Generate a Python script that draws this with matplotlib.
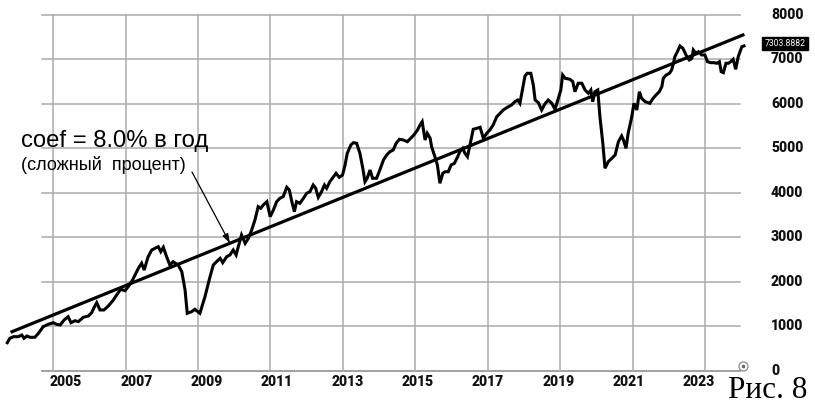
import matplotlib
matplotlib.use("Agg")
import matplotlib.pyplot as plt
import matplotlib.transforms as mtransforms

# index level (year fraction, value)
years = [
    2003.73, 2003.80, 2003.90, 2004.03, 2004.13, 2004.19, 2004.27, 2004.36, 2004.49, 2004.59,
    2004.72, 2004.86, 2005.00, 2005.09, 2005.19, 2005.30, 2005.41, 2005.49, 2005.60, 2005.69,
    2005.83, 2005.97, 2006.06, 2006.13, 2006.20, 2006.29, 2006.40, 2006.52, 2006.66, 2006.75,
    2006.86, 2006.98, 2007.07, 2007.19, 2007.35, 2007.44, 2007.51, 2007.62, 2007.72, 2007.81,
    2007.90, 2007.97, 2008.04, 2008.13, 2008.22, 2008.31, 2008.45, 2008.55, 2008.64, 2008.70,
    2008.82, 2008.91, 2009.05, 2009.19, 2009.33, 2009.42, 2009.51, 2009.61, 2009.68, 2009.79,
    2009.88, 2009.97, 2010.05, 2010.11, 2010.20, 2010.30, 2010.39, 2010.48, 2010.57, 2010.66,
    2010.73, 2010.80, 2010.90, 2010.99, 2011.08, 2011.17, 2011.26, 2011.35, 2011.45, 2011.52,
    2011.59, 2011.66, 2011.72, 2011.81, 2011.91, 2012.00, 2012.09, 2012.18, 2012.25, 2012.32,
    2012.41, 2012.49, 2012.55, 2012.64, 2012.73, 2012.81, 2012.90, 2012.99, 2013.06, 2013.12,
    2013.22, 2013.29, 2013.38, 2013.47, 2013.55, 2013.61, 2013.67, 2013.75, 2013.82, 2013.93,
    2014.02, 2014.12, 2014.21, 2014.30, 2014.39, 2014.47, 2014.56, 2014.67, 2014.78, 2014.87,
    2014.96, 2015.06, 2015.13, 2015.19, 2015.27, 2015.33, 2015.41, 2015.45, 2015.54, 2015.61,
    2015.68, 2015.76, 2015.82, 2015.91, 2015.99, 2016.08, 2016.17, 2016.23, 2016.31, 2016.37,
    2016.44, 2016.51, 2016.60, 2016.70, 2016.79, 2016.88, 2016.97, 2017.06, 2017.15, 2017.25,
    2017.34, 2017.43, 2017.57, 2017.66, 2017.75, 2017.83, 2017.89, 2017.97, 2018.03, 2018.09,
    2018.19, 2018.26, 2018.31, 2018.40, 2018.49, 2018.58, 2018.67, 2018.77, 2018.86, 2018.95,
    2019.02, 2019.07, 2019.14, 2019.27, 2019.35, 2019.41, 2019.50, 2019.60, 2019.69, 2019.78,
    2019.85, 2019.90, 2019.96, 2020.04, 2020.10, 2020.18, 2020.24, 2020.33, 2020.43, 2020.52,
    2020.61, 2020.70, 2020.75, 2020.82, 2020.88, 2020.98, 2021.04, 2021.12, 2021.19, 2021.25,
    2021.35, 2021.48, 2021.57, 2021.65, 2021.74, 2021.81, 2021.85, 2021.93, 2022.02, 2022.08,
    2022.13, 2022.17, 2022.24, 2022.31, 2022.39, 2022.45, 2022.50, 2022.57, 2022.64, 2022.68,
    2022.75, 2022.82, 2022.91, 2023.00, 2023.07, 2023.16, 2023.25, 2023.33, 2023.40, 2023.45,
    2023.51, 2023.58, 2023.65, 2023.71, 2023.78, 2023.85, 2023.92, 2024.02, 2024.08,
]
values = [
    636, 735, 771, 771, 809, 735, 786, 757, 757, 847,
    995, 1049, 1085, 1049, 1034, 1146, 1220, 1085, 1130, 1108,
    1207, 1236, 1310, 1431, 1535, 1371, 1371, 1461, 1595, 1708,
    1836, 1804, 1894, 2045, 2308, 2420, 2269, 2568, 2719, 2757,
    2793, 2681, 2780, 2568, 2382, 2456, 2382, 2231, 1820, 1297,
    1332, 1386, 1297, 1670, 2119, 2382, 2456, 2532, 2434, 2568,
    2607, 2719, 2607, 2793, 3056, 2869, 2982, 3168, 3393, 3692,
    3656, 3730, 3804, 3467, 3618, 3804, 3881, 3917, 4128, 4067,
    3804, 3580, 3804, 3768, 3881, 3993, 4029, 4179, 4105, 3903,
    4029, 4179, 4105, 4254, 4352, 4442, 4352, 4404, 4629, 4892,
    5078, 5130, 5116, 4892, 4555, 4254, 4330, 4516, 4330, 4330,
    4516, 4741, 4854, 4928, 4966, 5116, 5206, 5191, 5152, 5229,
    5303, 5415, 5528, 5602, 5191, 5341, 5229, 5040, 4815, 4629,
    4218, 4442, 4478, 4478, 4629, 4667, 4815, 4928, 5004, 4892,
    4815, 5078, 5431, 5453, 5476, 5229, 5341, 5415, 5528, 5714,
    5791, 5865, 5939, 5977, 6051, 6089, 6015, 6359, 6629, 6689,
    6689, 6426, 6089, 6029, 5865, 6000, 6089, 6015, 5880, 6128,
    6314, 6651, 6577, 6555, 6501, 6276, 6465, 6465, 6314, 6240,
    6314, 6051, 6276, 6314, 5714, 5116, 4555, 4703, 4779, 4854,
    5152, 5280, 5191, 5004, 5341, 5714, 6015, 5865, 6276, 6128,
    6051, 6015, 6128, 6202, 6276, 6388, 6577, 6651, 6689, 6763,
    6914, 7062, 7175, 7303, 7251, 7152, 7062, 6988, 7026, 7213,
    7139, 7175, 7101, 7101, 6950, 6928, 6928, 6914, 6950, 6725,
    6703, 6914, 6914, 6950, 7004, 6779, 7062, 7287, 7304,
]

# fitted trend line, ends
trend_years = [2003.86, 2024.05]
trend_values = [883, 7550]

x_ticks = [2005, 2007, 2009, 2011, 2013, 2015, 2017, 2019, 2021, 2023]
y_ticks = [0, 1000, 2000, 3000, 4000, 5000, 6000, 7000, 8000]
last_label = "7303.8882"

grid_color = "#ababab"

fig = plt.figure(figsize=(8.15, 4.05), dpi=100)
ax = fig.add_axes([0, 0, 1, 1])
ax.set_xlim(2003.528, 2026.041)
ax.set_ylim(-764, 8336)
ax.axis("off")

# grid
grid_x0, grid_x1 = 2004.69, 2023.96
for v in y_ticks[1:]:
    ax.plot([grid_x0, grid_x1], [v, v], color=grid_color, lw=1.1, zorder=1)
ax.plot([grid_x0, grid_x1], [0, 0], color="#9a9a9a", lw=1.3, zorder=1)
for yr in x_ticks:
    ax.plot([yr, yr], [0, 8000], color=grid_color, lw=1.1, zorder=1)

# series + trend
ax.plot(years, values, color="black", lw=2.2, solid_joinstyle="miter", zorder=3)
ax.plot(trend_years, trend_values, color="black", lw=2.3, zorder=3)

# tick labels (the year labels sit on a slightly tighter spacing than the grid)
tick_font = dict(family="Roboto", weight="black", fontsize=10, color="#111111")
for i, yr in enumerate(x_ticks):
    fig.text((66 + i * 70.33) / 815, 1 - 382.5 / 405, str(yr), ha="center", va="center", **tick_font)
ytrans = mtransforms.blended_transform_factory(fig.transFigure, ax.transData)
for v in y_ticks:
    ax.text(771 / 815, v, str(v), transform=ytrans, ha="left", va="center", **tick_font)

# last value badge
ax.text(764.5 / 815, values[-1] + 60, last_label, transform=ytrans, ha="left", va="center",
        family="Roboto", fontsize=6.2, color="white",
        bbox=dict(boxstyle="square,pad=0.25", fc="black", ec="black"))

# small settings icon at the axis end
ax.plot([2024.05], [119], marker="o", ms=6.5, mfc="white", mec="#8a8a8a", mew=0.9, zorder=4)
ax.plot([2024.05], [119], marker="o", ms=1.6, color="#6a6a6a", zorder=5)

# annotation
ax.text(20.7 / 815, 1 - 147.3 / 405, "coef = 8.0% в год", transform=fig.transFigure,
        ha="left", va="baseline", family="Liberation Sans", fontsize=17.2, color="black")
ax.text(20.7 / 815, 1 - 170.5 / 405, "(сложный  процент)", transform=fig.transFigure,
        ha="left", va="baseline", family="Liberation Sans", fontsize=13, color="black")
ax.annotate("", xy=(2009.88, 2871), xycoords="data",
            xytext=(192 / 815, 1 - 172 / 405), textcoords="figure fraction",
            arrowprops=dict(arrowstyle="-|>,head_length=0.55,head_width=0.18",
                            color="black", lw=0.9, shrinkA=0, shrinkB=0))

fig.text(728 / 815, 1 - 398 / 405, "Рис. 8", ha="left", va="baseline",
         family="Liberation Serif", fontsize=22.5, color="black")

fig.savefig("out.png", dpi=100)
